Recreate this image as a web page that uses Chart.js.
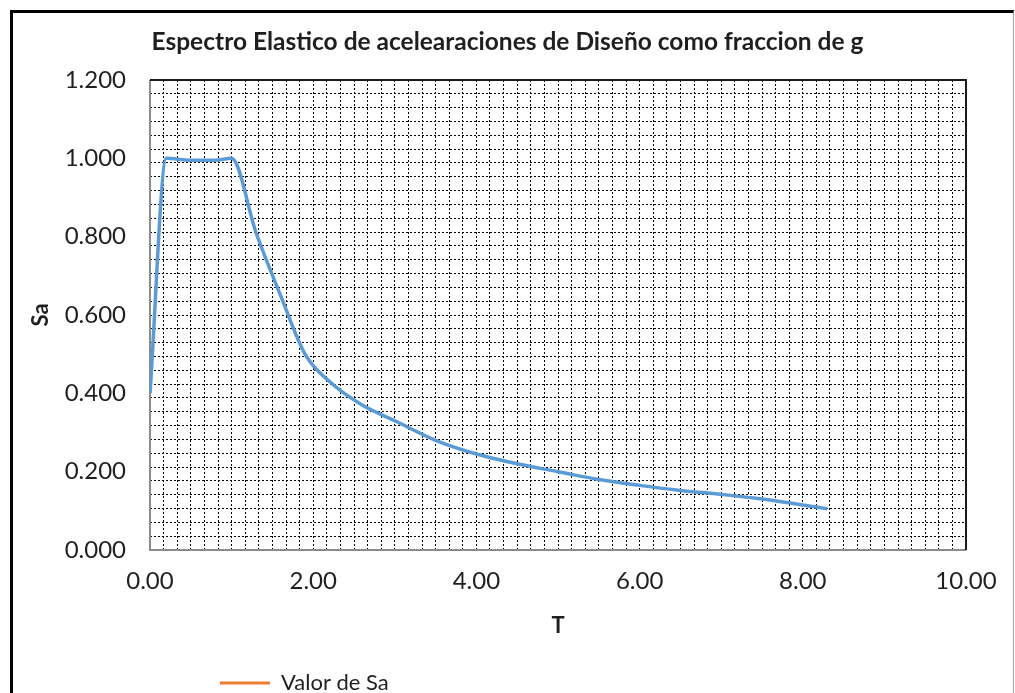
<!DOCTYPE html>
<html>
<head>
<meta charset="utf-8">
<script src="https://cdn.jsdelivr.net/npm/chart.js@4/dist/chart.umd.min.js"></script>
<style>
  html, body { margin: 0; padding: 0; background: #fff; }
  #wrap { position: relative; width: 1015px; height: 693px; overflow: hidden; }
  #spectrum { position: absolute; left: 0; top: 0; }
  #frame {
    position: absolute; left: 10px; top: 10px; width: 1000px; height: 720px;
    border-left: 3px solid #000; border-top: 3px solid #000; border-right: 1px solid #a0a0a0;
    pointer-events: none;
  }
</style>
</head>
<body>
<div id="wrap">
  <canvas id="spectrum" width="1015" height="693"></canvas>
  <div id="frame"></div>
</div>
<script>
// periods T (s) and spectral values
const periods = [0, 0.2, 0.5, 0.8, 1.0, 1.3, 1.6, 1.9, 2.2, 2.6, 3.0, 3.5, 4.0, 4.5, 5.0, 5.5, 6.0, 6.5, 7.0, 7.5, 8.0, 8.3];
const saValues = [0.40, 1.00, 0.995, 0.995, 1.00, 0.81, 0.65, 0.50, 0.43, 0.37, 0.33, 0.28, 0.245, 0.22, 0.20, 0.18, 0.165, 0.152, 0.142, 0.13, 0.115, 0.105];
const xTickValues = [0, 2, 4, 6, 8, 10];
const yTickValues = [0, 0.2, 0.4, 0.6, 0.8, 1.0, 1.2];
const chartTitle = 'Espectro Elastico de acelearaciones de Diseño como fraccion de g';
const legendLabel = 'Valor de Sa';

const textColor = '#1f1f1f';
const fontFamily = 'Lato, "Open Sans", sans-serif';

// plot frame: dark on top/right, grey on left/bottom
const frameBorder = {
    id: 'frameBorder',
    beforeDatasetsDraw(chart) {
        const { ctx, chartArea: a } = chart;
        ctx.save();
        ctx.lineWidth = 2;
        ctx.strokeStyle = '#8c8c8c';
        ctx.beginPath();
        ctx.moveTo(a.left, a.top); ctx.lineTo(a.left, a.bottom); ctx.lineTo(a.right, a.bottom);
        ctx.stroke();
        ctx.strokeStyle = '#1a1a1a';
        ctx.beginPath();
        ctx.moveTo(a.left, a.top); ctx.lineTo(a.right, a.top); ctx.lineTo(a.right, a.bottom);
        ctx.stroke();
        ctx.restore();
    }
};

// title centred on the whole frame, legend at the lower left
const blockPlace = {
    id: 'blockPlace',
    afterLayout(chart) {
        chart.titleBlock.left = 0;
        chart.titleBlock.right = 1015;
        chart.legend.left = 220;
        chart.legend.top = 672;
    }
};

const points = periods.map((t, i) => ({ x: t, y: saValues[i] }));

new Chart(document.getElementById('spectrum'), {
    type: 'line',
    data: {
        datasets: [
            {
                label: 'Sa',
                data: points,
                borderColor: '#5B9BD5',
                backgroundColor: '#5B9BD5',
                borderWidth: 3.5,
                pointRadius: 0,
                cubicInterpolationMode: 'monotone'
            },
            {
                label: legendLabel,
                data: [],
                borderColor: '#ED7D31',
                backgroundColor: '#ED7D31',
                borderWidth: 3,
                pointRadius: 0
            }
        ]
    },
    options: {
        responsive: false,
        animation: false,
        layout: { padding: { left: 20, right: 49, top: 0, bottom: 0 } },
        plugins: {
            title: {
                display: true,
                text: chartTitle,
                color: textColor,
                font: { family: fontFamily, size: 24.5, weight: 'bold' },
                padding: { top: 27, bottom: 23.6 }
            },
            legend: {
                position: 'bottom',
                align: 'start',
                labels: {
                    filter: item => item.text === legendLabel,
                    usePointStyle: true,
                    pointStyle: 'line',
                    pointStyleWidth: 50,
                    padding: 0,
                    color: textColor,
                    font: { family: fontFamily, size: 22 }
                }
            },
            tooltip: { enabled: false }
        },
        scales: {
            x: {
                type: 'linear',
                min: 0, max: 10,
                afterFit: s => { s.height = 111; },
                afterBuildTicks: s => { s.ticks = xTickValues.map(v => ({ value: v })); },
                grid: { display: false },
                border: { display: false },
                ticks: {
                    padding: 9,
                    color: textColor,
                    font: { family: fontFamily, size: 24 },
                    callback: v => v.toFixed(2)
                },
                title: {
                    display: true, text: 'T', color: textColor,
                    font: { family: fontFamily, size: 22, weight: 'bold' },
                    padding: { top: 0, bottom: 22 }
                }
            },
            y: {
                min: 0, max: 1.2,
                afterFit: s => { s.width = 130; },
                afterBuildTicks: s => { s.ticks = yTickValues.map(v => ({ value: v })); },
                grid: { display: false },
                border: { display: false },
                ticks: {
                    padding: 16,
                    color: textColor,
                    font: { family: fontFamily, size: 24 },
                    callback: v => v.toFixed(3)
                },
                title: {
                    display: true, text: 'Sa', color: textColor,
                    font: { family: fontFamily, size: 22, weight: 'bold' },
                    padding: { top: 8, bottom: 0 }
                }
            },
            // dotted pattern of the plot area
            xg: {
                type: 'linear', position: 'top', min: 0, max: 10,
                ticks: { display: false, stepSize: 10 / 60 },
                grid: { color: '#000', lineWidth: 1, drawTicks: false },
                border: { display: false, dash: [2, 2] }
            },
            yg: {
                type: 'linear', position: 'right', min: 0, max: 1.2,
                ticks: { display: false, stepSize: 1.2 / 34 },
                grid: { color: '#000', lineWidth: 1, drawTicks: false },
                border: { display: false, dash: [2, 2] }
            }
        }
    },
    plugins: [frameBorder, blockPlace]
});
</script>
</body>
</html>
